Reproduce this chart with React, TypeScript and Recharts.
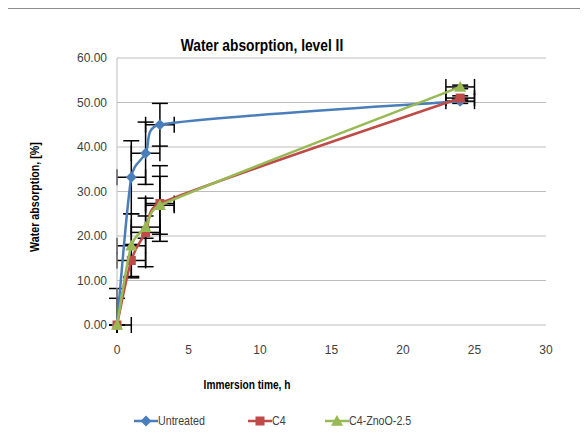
import React from 'react';
import { ScatterChart, Scatter, XAxis, YAxis, CartesianGrid, ErrorBar } from 'recharts';

// ── data ────────────────────────────────────────────────────────────────────
const hours = [0, 1, 2, 3, 24];
const untreated = [0, 33.2, 38.6, 45, 50.3];
const c4 = [0, 14.5, 20.8, 27.3, 51];
const c4Zno = [0, 17.8, 22, 26.9, 53.5];

// y error (± or [below, above])
const untreatedErrY = [[0, 8.2], 8.2, 7, 4.8, 0.5];
const c4ErrY = [[0, 6], 3.6, 7.7, 8.5, 0.5];
const c4ZnoErrY = [[0, 0], 7.2, 2.5, 6.5, 0.4];

// x error
const untreatedErrX = [[0, 1], 1, 1, 1, 1];
const c4ErrX = [[0, 0], 1, 1, 1, 1];
const c4ZnoErrX = [[0, 0], 1, 1, 1, 1];

const xTicks = [0, 5, 10, 15, 20, 25, 30];
const yTicks = [0, 10, 20, 30, 40, 50, 60];

const BLUE = '#4a7ebb';
const RED = '#be4b48';
const GREEN = '#98b954';
const FONT = "'Liberation Sans', Arial, sans-serif";

const build = (ys: number[], ey: any[], ex: any[]) =>
  hours.map((x, i) => ({ x, y: ys[i], ey: ey[i], ex: ex[i] }));

const untreatedData = build(untreated, untreatedErrY, untreatedErrX);
const c4Data = build(c4, c4ErrY, c4ErrX);
const c4ZnoData = build(c4Zno, c4ZnoErrY, c4ZnoErrX);

// Excel-style smoothed line: 1/6 tangents, arms capped at half the segment
const dist = (a: number[], b: number[]) => Math.hypot(b[0] - a[0], b[1] - a[1]);
const excelSmooth = (context: any) => {
  let pts: number[][] = [];
  return {
    areaStart() {},
    areaEnd() {},
    lineStart() { pts = []; },
    point(x: number, y: number) { pts.push([+x, +y]); },
    lineEnd() {
      const n = pts.length;
      if (!n) return;
      context.moveTo(pts[0][0], pts[0][1]);
      for (let i = 0; i < n - 1; i++) {
        const p0 = pts[i - 1] || pts[i];
        const p1 = pts[i];
        const p2 = pts[i + 1];
        const p3 = pts[i + 2] || p2;
        const d12 = dist(p1, p2);
        const d02 = dist(p0, p2);
        const d13 = dist(p1, p3);
        const f0 = d02 / 6 < d12 / 2 ? 1 / 6 : d02 ? d12 / (2 * d02) : 0;
        const f3 = d13 / 6 < d12 / 2 ? 1 / 6 : d13 ? d12 / (2 * d13) : 0;
        context.bezierCurveTo(
          p1[0] + f0 * (p2[0] - p0[0]), p1[1] + f0 * (p2[1] - p0[1]),
          p2[0] - f3 * (p3[0] - p1[0]), p2[1] - f3 * (p3[1] - p1[1]),
          p2[0], p2[1],
        );
      }
    },
  };
};

// ── markers ──────────────────────────────────────────────────────────────────
const Diamond = ({ cx, cy, s = 5.5 }: any) => (
  <path d={`M${cx},${cy - s}L${cx + s},${cy}L${cx},${cy + s}L${cx - s},${cy}Z`} fill={BLUE} />
);
const Square = ({ cx, cy, s = 4.5 }: any) => (
  <rect x={cx - s} y={cy - s} width={s * 2} height={s * 2} fill={RED} />
);
const Triangle = ({ cx, cy, s = 6 }: any) => (
  <path d={`M${cx},${cy - s}L${cx + s},${cy + s * 0.8}L${cx - s},${cy + s * 0.8}Z`} fill={GREEN} />
);

// centred, horizontally squeezed text (Calibri-like width)
function Txt({ x, y, size, bold, rotate, sx = 0.8, color = '#000', children }: any) {
  return (
    <div style={{
      position: 'absolute', left: x - 150, top: y - 15, width: 300, height: 30, lineHeight: '30px',
      textAlign: 'center', fontSize: size, fontWeight: bold ? 'bold' : 'normal', color, whiteSpace: 'nowrap',
      transform: `${rotate ? 'rotate(-90deg) ' : ''}scaleX(${sx})`,
    }}>
      {children}
    </div>
  );
}

function LegendItem({ x, color, label, Marker, sx }: any) {
  return (
    <div style={{ position: 'absolute', left: x, top: 413, display: 'flex', alignItems: 'center' }}>
      <svg width={24} height={14}>
        <line x1={0} y1={7} x2={24} y2={7} stroke={color} strokeWidth={2.5} />
        <Marker cx={12} cy={7} />
      </svg>
      <span style={{ display: 'inline-block', fontSize: 13, color: '#404040', transform: `scaleX(${sx})`, transformOrigin: 'left center', whiteSpace: 'nowrap' }}>
        {label}
      </span>
    </div>
  );
}

const errProps = { stroke: '#000', strokeWidth: 1.5, width: 8 };
const tickStyle = { fill: '#404040', fontSize: 12, fontFamily: FONT };

export default function App() {
  return (
    <div style={{ position: 'relative', width: 588, height: 448, margin: -8, background: '#fff', fontFamily: FONT, overflow: 'hidden' }}>
      {/* frame */}
      <div style={{ position: 'absolute', left: 4, top: 8, width: 700, height: 500, borderTop: '1px solid #8c8c8c', borderLeft: '1px solid #8c8c8c' }} />

      <ScatterChart width={588} height={448} margin={{ top: 58, right: 42, left: 0, bottom: 83 }}>
        <CartesianGrid vertical={false} stroke="#bdbdbd" strokeWidth={1} />
        <XAxis
          type="number" dataKey="x" domain={[0, 30]} ticks={xTicks} height={40}
          axisLine={false} tickLine={false} tickSize={0} tickMargin={20}
          tick={tickStyle}
        />
        <YAxis
          type="number" dataKey="y" domain={[0, 60]} ticks={yTicks} width={117}
          axisLine={{ stroke: '#bdbdbd' }} tickLine={false} tickSize={0} tickMargin={10}
          tickFormatter={(v: number) => v.toFixed(2)}
          tick={tickStyle}
        />
        <Scatter data={untreatedData} line={{ stroke: BLUE, strokeWidth: 2.5 }} lineJointType={excelSmooth as any}
          shape={(p: any) => <Diamond cx={p.cx} cy={p.cy} />} isAnimationActive={false}>
          <ErrorBar dataKey="ey" direction="y" {...errProps} />
          <ErrorBar dataKey="ex" direction="x" {...errProps} />
        </Scatter>
        <Scatter data={c4Data} line={{ stroke: RED, strokeWidth: 2.5 }} lineJointType={excelSmooth as any}
          shape={(p: any) => <Square cx={p.cx} cy={p.cy} />} isAnimationActive={false}>
          <ErrorBar dataKey="ey" direction="y" {...errProps} />
          <ErrorBar dataKey="ex" direction="x" {...errProps} />
        </Scatter>
        <Scatter data={c4ZnoData} line={{ stroke: GREEN, strokeWidth: 2.5 }} lineJointType={excelSmooth as any}
          shape={(p: any) => <Triangle cx={p.cx} cy={p.cy} />} isAnimationActive={false}>
          <ErrorBar dataKey="ey" direction="y" {...errProps} />
          <ErrorBar dataKey="ex" direction="x" {...errProps} />
        </Scatter>
      </ScatterChart>

      <Txt x={262} y={46} size={17} bold sx={0.81}>Water absorption, level II</Txt>
      <Txt x={35} y={197} size={13} bold rotate sx={0.82}>Water absorption, [%]</Txt>
      <Txt x={247} y={385} size={13} bold sx={0.78}>Immersion time, h</Txt>

      <LegendItem x={134} color={BLUE} label="Untreated" Marker={Diamond} sx={0.82} />
      <LegendItem x={248} color={RED} label="C4" Marker={Square} sx={0.82} />
      <LegendItem x={325} color={GREEN} label="C4-ZnoO-2.5" Marker={Triangle} sx={0.82} />
    </div>
  );
}
